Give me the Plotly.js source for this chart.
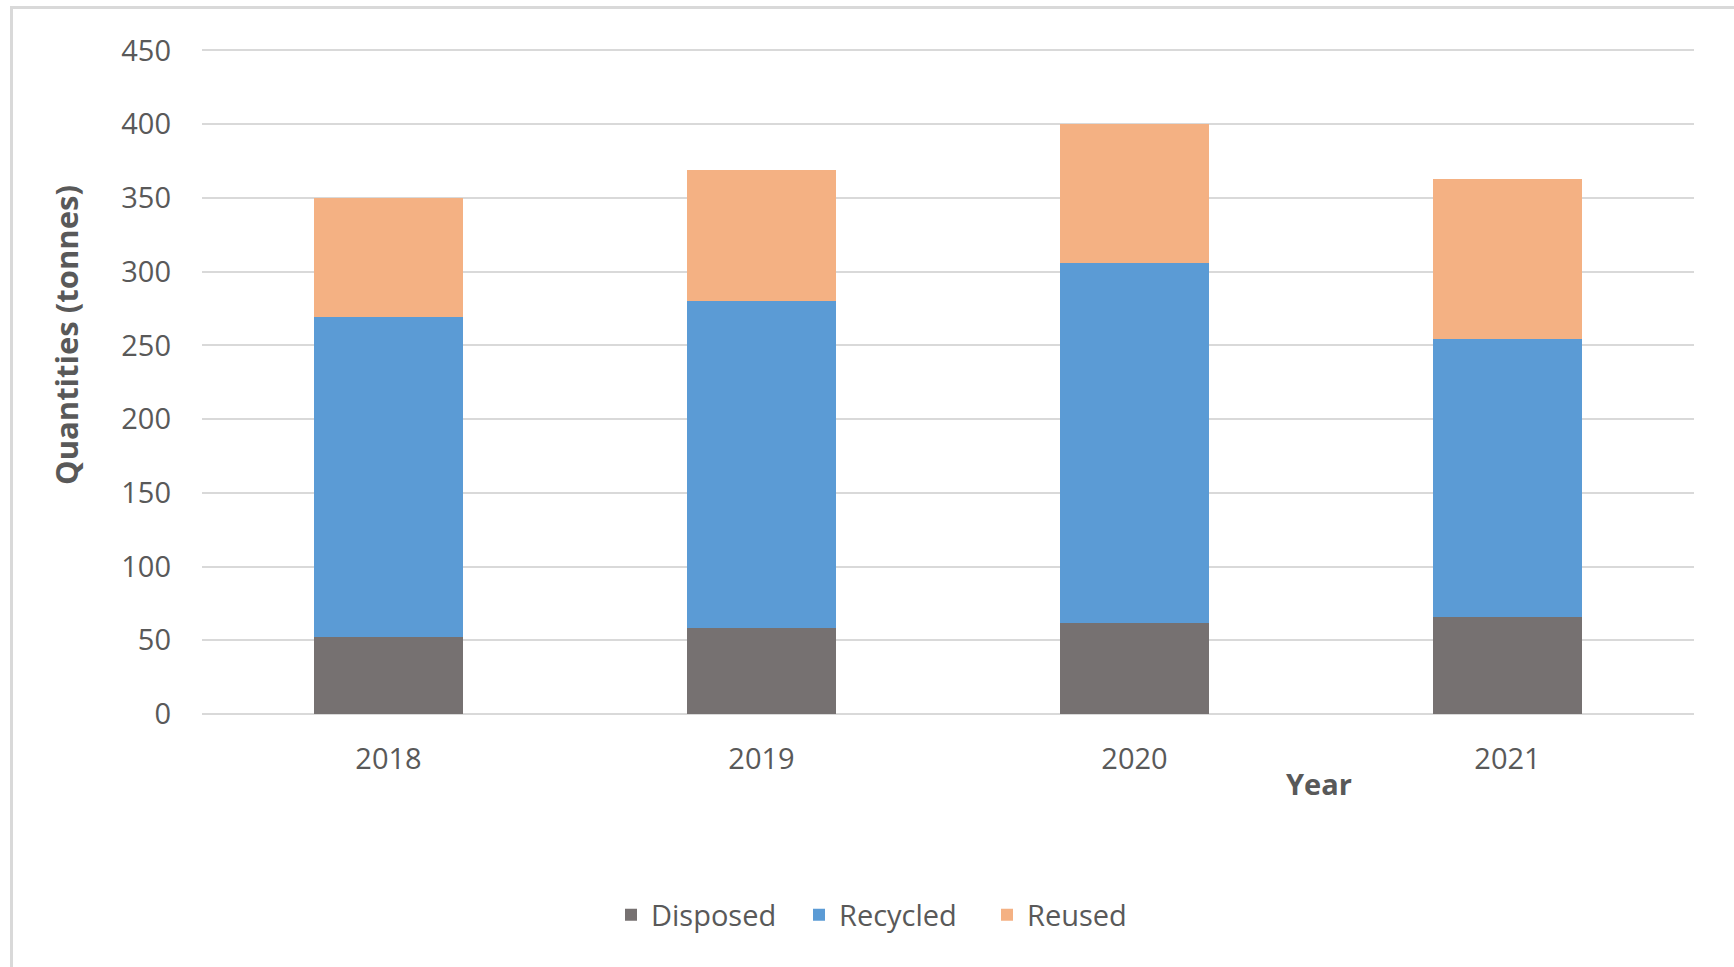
<!DOCTYPE html>
<html>
<head>
<meta charset="utf-8">
<script src="https://cdn.plot.ly/plotly-3.0.1.min.js"></script>
<style>
  html, body { margin: 0; padding: 0; background: #ffffff; }
  #wrap { position: relative; width: 1734px; height: 967px; overflow: hidden; }
  #chart { position: absolute; left: 0; top: 0; width: 1734px; height: 967px; }
  #frame { position: absolute; left: 10px; top: 6px; width: 1740px; height: 980px;
           border-top: 3px solid #D9D9D9; border-left: 3px solid #D9D9D9; pointer-events: none; }
</style>
</head>
<body>
<div id="wrap">
  <div id="chart"></div>
  <div id="frame"></div>
</div>
<script>
const years = ["2018", "2019", "2020", "2021"];
const disposed = [52, 58, 62, 66];
const recycled = [217, 222, 244, 188];
const reused = [81, 89, 94, 109];
const yTicks = [0, 50, 100, 150, 200, 250, 300, 350, 400, 450];

const FONT = "Open Sans, Liberation Sans, sans-serif";
const TXT = "#595959";

const traces = [
  { type: "bar", name: "Disposed", x: years, y: disposed, marker: { color: "#767171" } },
  { type: "bar", name: "Recycled", x: years, y: recycled, marker: { color: "#5B9BD5" } },
  { type: "bar", name: "Reused", x: years, y: reused, marker: { color: "#F4B183" } }
];

const PL = 202, PR = 1694, PT = 49, PB = 714;
const PW = PR - PL, PH = PB - PT;

const layout = {
  width: 1734, height: 967,
  paper_bgcolor: "#ffffff", plot_bgcolor: "#ffffff",
  barmode: "stack", bargap: 0.6,
  margin: { l: PL, r: 1734 - PR, t: PT, b: 967 - PB },
  font: { family: FONT, color: TXT, size: 29 },
  showlegend: true,
  legend: {
    orientation: "h", x: (893 - PL) / PW, xanchor: "center", y: (PB - 915) / PH, yanchor: "middle",
    entrywidth: 143, entrywidthmode: "pixels",
    font: { family: FONT, color: TXT, size: 29 }, traceorder: "normal"
  },
  xaxis: {
    type: "category", showgrid: false, zeroline: false, showline: false, ticks: "",
    tickfont: { family: FONT, color: TXT, size: 29 }, ticklabelstandoff: 25
  },
  yaxis: {
    range: [0, 451], tickvals: yTicks, ticktext: yTicks.map(String),
    showgrid: true, gridcolor: "#D9D9D9", gridwidth: 2,
    zeroline: true, zerolinecolor: "#D9D9D9", zerolinewidth: 2,
    showline: false, ticks: "", ticklabelstandoff: 30,
    tickfont: { family: FONT, color: TXT, size: 29 }
  },
  annotations: [
    { text: "<b>Quantities (tonnes)</b>", xref: "paper", yref: "paper",
      x: (66 - PL) / PW, y: (PB - 335) / PH, xanchor: "center", yanchor: "middle",
      textangle: -90, showarrow: false, font: { family: FONT, color: TXT, size: 31 } },
    { text: "<b>Year</b>", xref: "paper", yref: "paper",
      x: (1319 - PL) / PW, y: (PB - 783) / PH, xanchor: "center", yanchor: "middle",
      showarrow: false, font: { family: FONT, color: TXT, size: 29 } }
  ]
};

Plotly.newPlot("chart", traces, layout, { displayModeBar: false, staticPlot: true });
</script>
</body>
</html>
